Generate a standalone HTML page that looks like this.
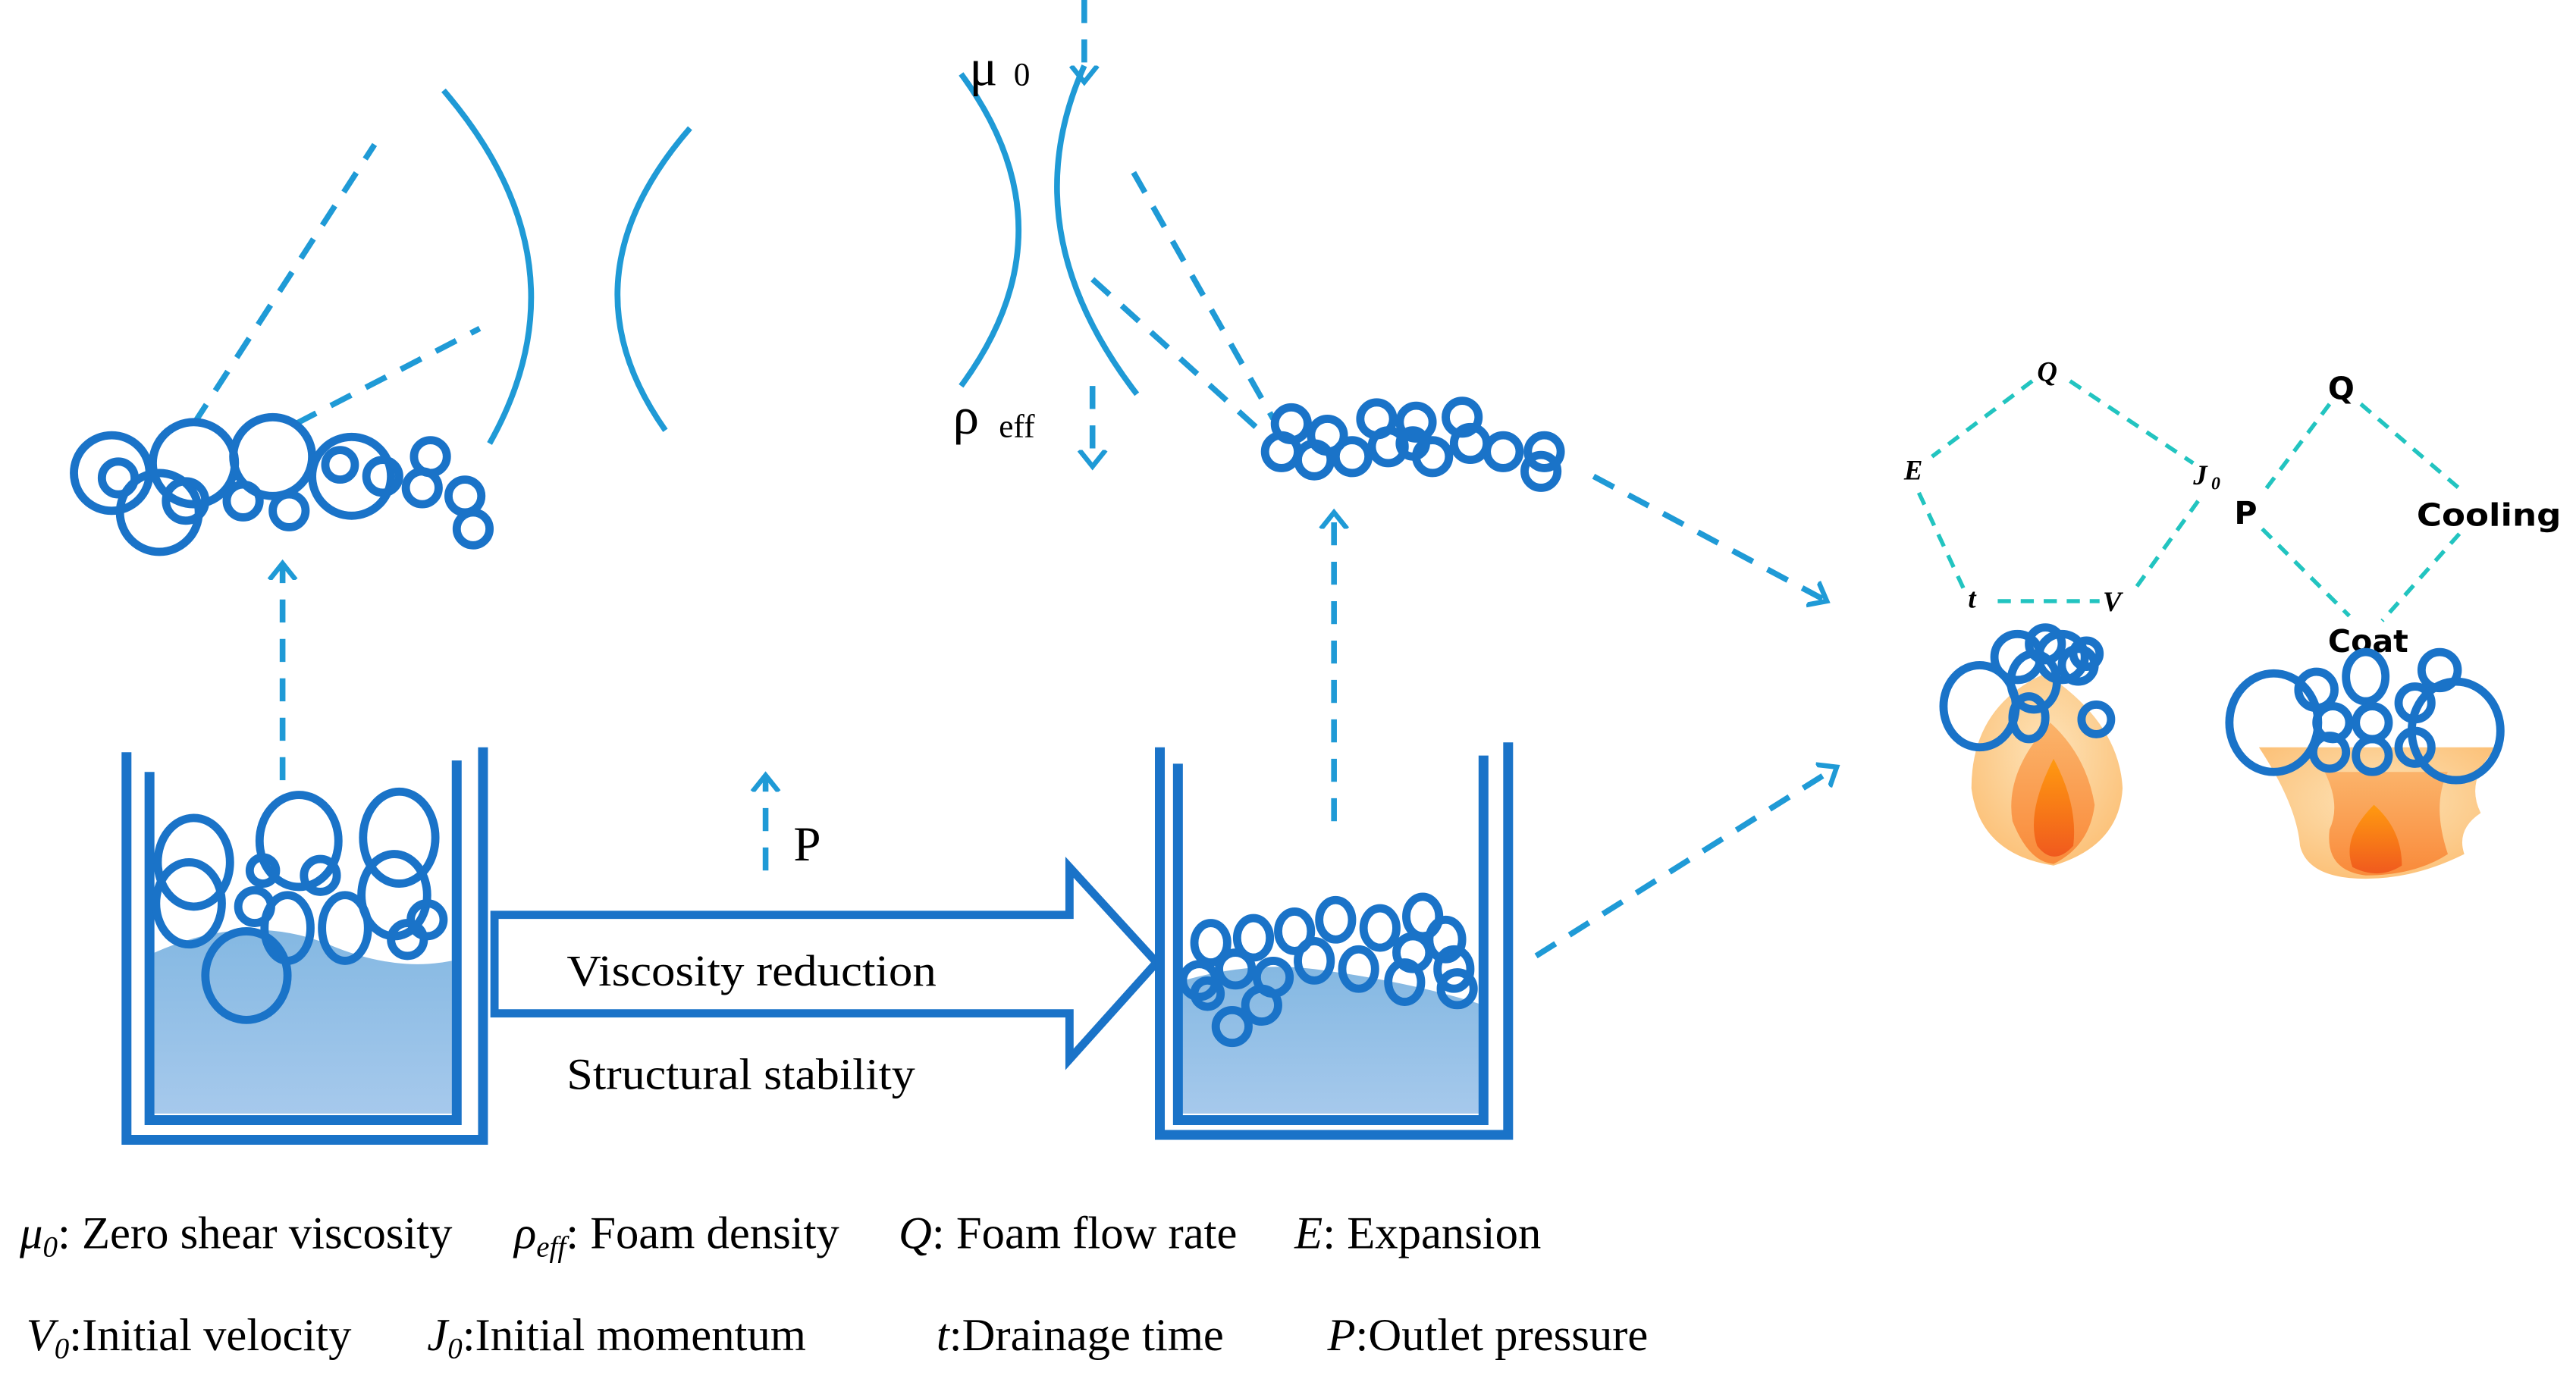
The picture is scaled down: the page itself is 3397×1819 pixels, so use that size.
<!DOCTYPE html>
<html><head><meta charset="utf-8"><style>html,body{margin:0;padding:0;background:#fff;overflow:hidden}svg{display:block}</style></head>
<body>
<svg width="3397" height="1819" viewBox="0 0 1568 839.6" xmlns="http://www.w3.org/2000/svg" font-family="Liberation Serif, serif">
<defs>
<linearGradient id="liq" x1="0" y1="0" x2="0" y2="1"><stop offset="0" stop-color="#84b8e2"/><stop offset="1" stop-color="#a6c9ec"/></linearGradient>
<radialGradient id="fl1" cx="0.5" cy="0.4" r="0.6"><stop offset="0" stop-color="#fde3b8"/><stop offset="1" stop-color="#fcc27a"/></radialGradient>
<linearGradient id="fl2" x1="0" y1="0" x2="0" y2="1"><stop offset="0" stop-color="#fbb36a"/><stop offset="1" stop-color="#f98a3a"/></linearGradient>
<linearGradient id="fl3" x1="0" y1="0" x2="0" y2="1"><stop offset="0" stop-color="#ff9a10"/><stop offset="1" stop-color="#f05a1e"/></linearGradient>
<marker id="ah" viewBox="0 0 20 20" refX="10" refY="10" markerWidth="20" markerHeight="20" markerUnits="userSpaceOnUse" orient="auto"><path d="M0,2 L10,10 L0,18" fill="none" stroke="#1f9ad6" stroke-width="3"/></marker>
</defs>
<g fill="none" stroke="#1f9ad6" stroke-width="3.5" stroke-dasharray="14,10">
<line x1="172" y1="475" x2="172" y2="343" marker-end="url(#ah)"/>
<line x1="118" y1="258" x2="228" y2="88"/>
<line x1="180" y1="258" x2="292" y2="200"/>
<line x1="660" y1="0" x2="660" y2="50" marker-end="url(#ah)"/>
<line x1="665" y1="235" x2="665" y2="284" marker-end="url(#ah)"/>
<line x1="690" y1="105" x2="775" y2="255"/>
<line x1="665" y1="170" x2="770" y2="265"/>
<line x1="812" y1="500" x2="812" y2="312" marker-end="url(#ah)"/>
<line x1="466" y1="530" x2="466" y2="472" marker-end="url(#ah)"/>
<line x1="970" y1="290" x2="1112" y2="366" marker-end="url(#ah)"/>
<line x1="935" y1="582" x2="1118" y2="467" marker-end="url(#ah)"/>
</g>
<g fill="none" stroke="#1f9ad6" stroke-width="3.5">
<path d="M270,55 Q360,160 298,270"/>
<path d="M420,78 Q340,170 405,262"/>
<path d="M585,45 Q655,140 585,235"/>
<path d="M660,40 Q615,140 692,240"/>
</g>
<!-- left beaker -->
<path d="M94,580 Q150,555 200,575 Q240,592 275,585 L275,678 L94,678 Z" fill="url(#liq)"/>
<g fill="none" stroke="#1a73c8" stroke-width="6">
<path d="M77,458 V694 H294 V455"/>
<path d="M91,470 V682 H278 V463"/>
</g>
<g fill="none" stroke="#1a73c8" stroke-width="5">
<ellipse cx="118" cy="525" rx="22" ry="27"/><ellipse cx="115" cy="550" rx="20" ry="25"/><ellipse cx="182" cy="512" rx="24" ry="28"/><ellipse cx="243" cy="510" rx="22" ry="28"/>
<ellipse cx="240" cy="545" rx="20" ry="25"/><circle cx="160" cy="530" r="8"/><circle cx="195" cy="533" r="10"/><ellipse cx="175" cy="565" rx="14" ry="20"/>
<circle cx="155" cy="552" r="10"/><circle cx="248" cy="572" r="10"/><circle cx="260" cy="560" r="10"/><ellipse cx="150" cy="594" rx="25" ry="27"/><ellipse cx="210" cy="565" rx="14" ry="20"/>
</g>
<!-- top-left cluster -->
<g fill="none" stroke="#1a73c8" stroke-width="5">
<circle cx="68" cy="288" r="23"/><circle cx="72" cy="291" r="10"/><circle cx="97" cy="312" r="24"/><circle cx="113" cy="305" r="12"/>
<circle cx="118" cy="282" r="25"/><circle cx="148" cy="305" r="10"/><circle cx="166" cy="278" r="24"/><circle cx="176" cy="311" r="10"/>
<circle cx="214" cy="290" r="24"/><circle cx="207" cy="283" r="9"/><circle cx="233" cy="290" r="10"/><circle cx="262" cy="278" r="10"/>
<circle cx="257" cy="297" r="10"/><circle cx="283" cy="302" r="10"/><circle cx="288" cy="322" r="10"/>
</g>
<!-- middle cluster -->
<g fill="none" stroke="#1a73c8" stroke-width="5">
<circle cx="786" cy="258" r="10"/><circle cx="780" cy="275" r="10"/><circle cx="800" cy="280" r="10"/><circle cx="808" cy="265" r="10"/>
<circle cx="823" cy="278" r="10"/><circle cx="838" cy="255" r="10"/><circle cx="845" cy="272" r="10"/><circle cx="862" cy="257" r="10"/>
<circle cx="872" cy="278" r="10"/><circle cx="890" cy="254" r="10"/><circle cx="895" cy="270" r="10"/><circle cx="915" cy="275" r="10"/>
<circle cx="940" cy="275" r="10"/><circle cx="938" cy="287" r="10"/><circle cx="860" cy="270" r="8"/>
</g>
<!-- big arrow -->
<path d="M301,557 H651 V528 L704,586 L651,645 V617 H301 Z" fill="#fff" stroke="#1a73c8" stroke-width="5"/>
<text x="345" y="600" font-size="27" textLength="225" lengthAdjust="spacingAndGlyphs">Viscosity reduction</text>
<text x="345" y="663" font-size="27" textLength="212" lengthAdjust="spacingAndGlyphs">Structural stability</text>
<text x="483" y="524" font-size="30">P</text>
<!-- right beaker -->
<path d="M717,598 Q760,585 800,590 Q860,598 903,612 L903,678 L717,678 Z" fill="url(#liq)"/>
<g fill="none" stroke="#1a73c8" stroke-width="6">
<path d="M706,455 V691 H918 V452"/>
<path d="M717,465 V682 H903 V460"/>
</g>
<g fill="none" stroke="#1a73c8" stroke-width="5">
<ellipse cx="737" cy="574" rx="10" ry="12"/><ellipse cx="763" cy="571" rx="10" ry="12"/><ellipse cx="788" cy="567" rx="10" ry="12"/><ellipse cx="813" cy="560" rx="10" ry="12"/>
<ellipse cx="840" cy="565" rx="10" ry="12"/><ellipse cx="866" cy="558" rx="10" ry="12"/><ellipse cx="880" cy="572" rx="10" ry="12"/><ellipse cx="885" cy="590" rx="10" ry="12"/>
<circle cx="887" cy="602" r="10"/><circle cx="730" cy="597" r="10"/><circle cx="752" cy="590" r="10"/><circle cx="775" cy="595" r="10"/>
<ellipse cx="800" cy="585" rx="10" ry="12"/><ellipse cx="827" cy="590" rx="10" ry="12"/><ellipse cx="855" cy="598" rx="10" ry="12"/><circle cx="860" cy="580" r="10"/>
<circle cx="768" cy="612" r="10"/><circle cx="750" cy="625" r="10"/><circle cx="735" cy="605" r="8"/>
</g>
<!-- symbols middle -->
<text x="590" y="52" font-size="32">μ</text><text x="617" y="52" font-size="20">0</text>
<text x="580" y="264" font-size="32">ρ</text><text x="608" y="266" font-size="20">eff</text>
<!-- pentagon -->
<g fill="none" stroke="#22c4c0" stroke-width="2.5" stroke-dasharray="8,6">
<polyline points="1237,232 1176,278"/><polyline points="1260,232 1335,282"/>
<polyline points="1168,300 1196,360"/><polyline points="1338,305 1300,358"/><line x1="1216" y1="366" x2="1278" y2="366"/>
<polyline points="1418,246 1376,302"/><polyline points="1437,246 1500,300"/>
<polyline points="1377,322 1430,375"/><polyline points="1497,325 1450,378"/>
</g>
<g font-style="italic" font-weight="bold" font-size="17">
<text x="1240" y="232">Q</text><text x="1159" y="292">E</text><text x="1335" y="295">J</text><text x="1346" y="298" font-size="11">0</text>
<text x="1198" y="370">t</text><text x="1280" y="372">V</text>
</g>
<g font-family="DejaVu Sans, sans-serif" font-weight="bold" font-size="19">
<text x="1417" y="243">Q</text><text x="1360" y="319">P</text><text x="1471" y="320" textLength="88" lengthAdjust="spacingAndGlyphs">Cooling</text><text x="1417" y="397">Coat</text>
</g>
<!-- flames -->
<path d="M1245,410 Q1200,430 1200,480 Q1205,520 1250,527 Q1290,515 1292,480 Q1290,440 1245,410 Z" fill="url(#fl1)"/>
<path d="M1248,440 Q1220,470 1225,500 Q1235,525 1250,526 Q1272,515 1275,490 Q1270,460 1248,440 Z" fill="url(#fl2)"/>
<path d="M1250,462 Q1233,495 1240,515 Q1250,528 1262,515 Q1265,490 1250,462 Z" fill="url(#fl3)"/>
<path d="M1375,455 H1520 Q1500,475 1510,495 Q1495,505 1500,520 Q1470,535 1440,535 Q1405,535 1400,515 Q1398,490 1375,455 Z" fill="url(#fl1)"/>
<path d="M1415,470 H1490 Q1480,490 1490,520 Q1470,533 1440,533 Q1415,530 1418,505 Q1425,490 1415,470 Z" fill="url(#fl2)"/>
<path d="M1445,490 Q1425,510 1432,528 Q1448,536 1462,527 Q1462,505 1445,490 Z" fill="url(#fl3)"/>
<g fill="none" stroke="#1a73c8" stroke-width="5">
<ellipse cx="1205" cy="430" rx="22" ry="25"/><circle cx="1228" cy="400" r="14"/><ellipse cx="1238" cy="415" rx="14" ry="17"/><circle cx="1255" cy="400" r="14"/>
<circle cx="1265" cy="405" r="10"/><circle cx="1270" cy="398" r="8"/><ellipse cx="1235" cy="437" rx="10" ry="13"/><circle cx="1276" cy="438" r="9"/>
<circle cx="1245" cy="392" r="10"/>
<ellipse cx="1384" cy="440" rx="27" ry="30"/><circle cx="1410" cy="420" r="11"/><ellipse cx="1440" cy="412" rx="12" ry="15"/><circle cx="1485" cy="408" r="11"/>
<circle cx="1420" cy="440" r="10"/><circle cx="1444" cy="440" r="10"/><circle cx="1470" cy="428" r="10"/><ellipse cx="1495" cy="445" rx="27" ry="30"/>
<circle cx="1418" cy="458" r="10"/><circle cx="1444" cy="460" r="10"/><circle cx="1470" cy="455" r="10"/>
</g>
<!-- legend -->
<g font-size="28">
<text x="12" y="760"><tspan font-style="italic">μ</tspan><tspan font-style="italic" font-size="18" dy="5">0</tspan><tspan dy="-5">: Zero shear viscosity</tspan></text>
<text x="313" y="760"><tspan font-style="italic">ρ</tspan><tspan font-style="italic" font-size="18" dy="5">eff</tspan><tspan dy="-5">: Foam density</tspan></text>
<text x="547" y="760"><tspan font-style="italic">Q</tspan>: Foam flow rate</text>
<text x="788" y="760"><tspan font-style="italic">E</tspan>: Expansion</text>
<text x="16" y="822"><tspan font-style="italic">V</tspan><tspan font-style="italic" font-size="18" dy="5">0</tspan><tspan dy="-5">:Initial velocity</tspan></text>
<text x="260" y="822"><tspan font-style="italic">J</tspan><tspan font-style="italic" font-size="18" dy="5">0</tspan><tspan dy="-5">:Initial momentum</tspan></text>
<text x="570" y="822"><tspan font-style="italic">t</tspan>:Drainage time</text>
<text x="808" y="822"><tspan font-style="italic">P</tspan>:Outlet pressure</text>
</g>
</svg>
</body></html>
